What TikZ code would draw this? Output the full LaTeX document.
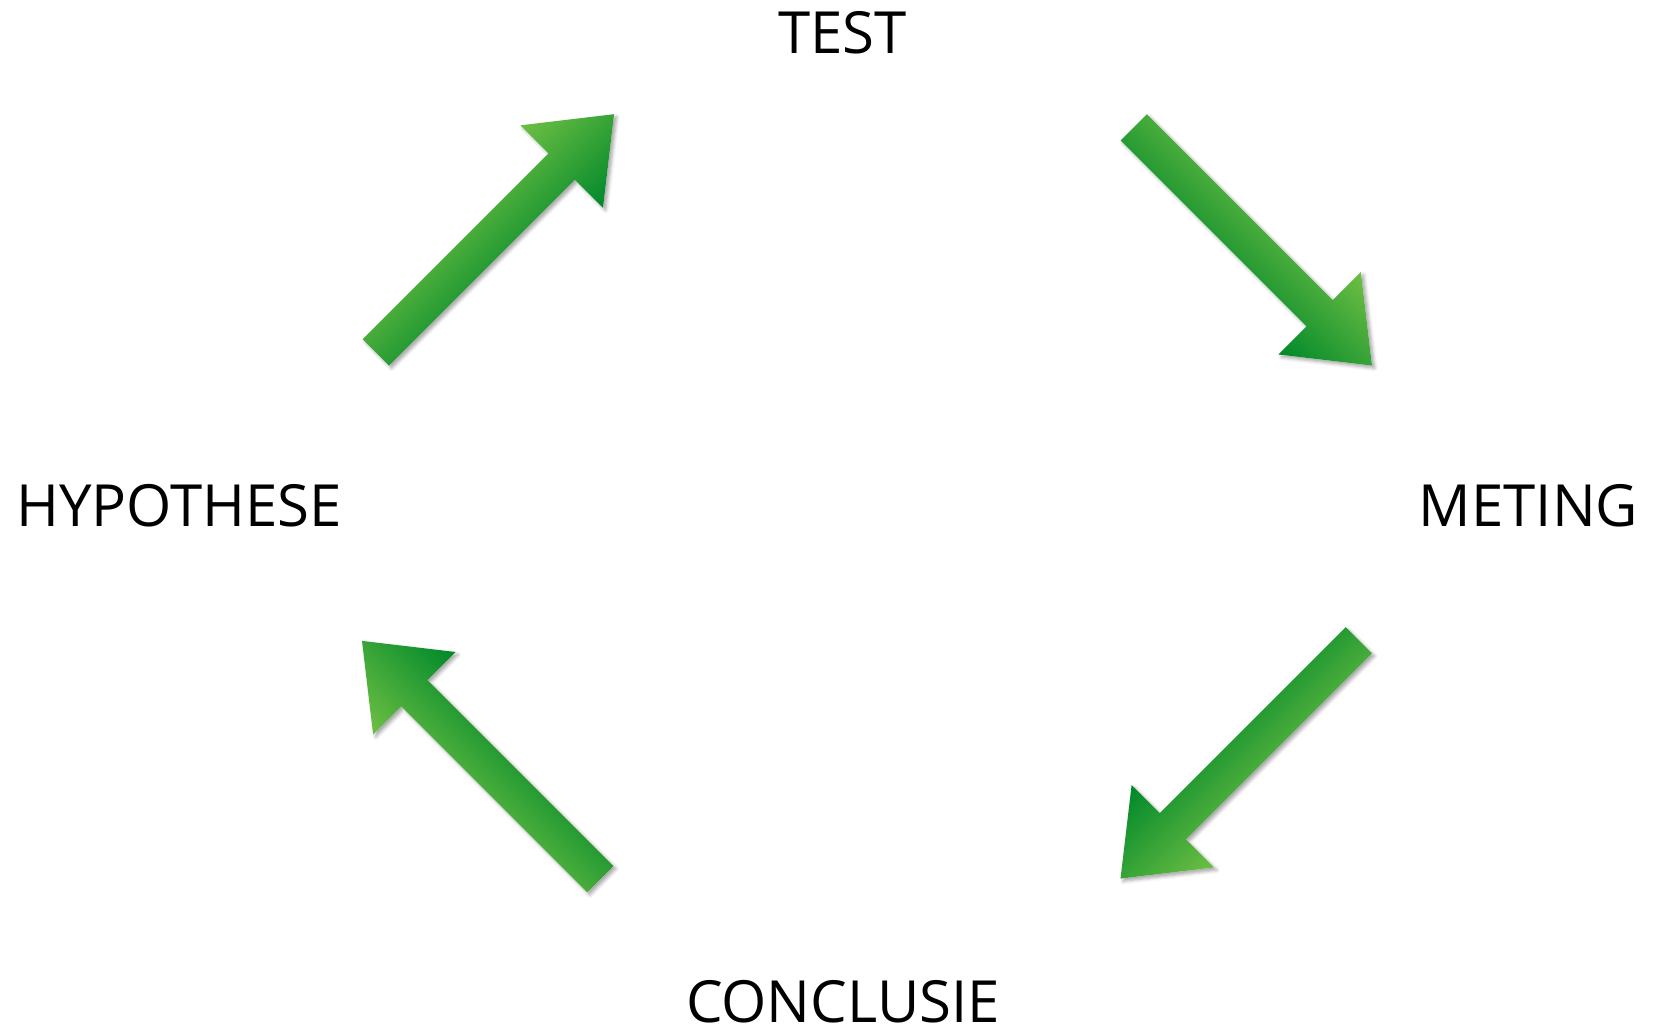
\documentclass[tikz,border=0pt]{standalone}
\usepackage{fontspec}
\setmainfont{Open Sans}
\usepackage{tikz}
\usetikzlibrary{shadows.blur}

\definecolor{lichtgroen}{RGB}{110,191,68}
\definecolor{donkergroen}{RGB}{0,136,42}

% vorm van een pijl: staart in de oorsprong, punt naar rechts
\newcommand{\pijlvorm}{(0,-18.6) -- (263,-18.6) -- (263,-58.3) -- (337,0) -- (263,58.3) -- (263,18.6) -- (0,18.6) -- cycle}

\begin{document}
\begin{tikzpicture}[x=0.75pt, y=0.75pt,
	etiket/.style={inner sep=0pt, text=black, font=\fontsize{43.6}{50}\selectfont},
	pijl/.style={draw=none, top color=lichtgroen, bottom color=donkergroen},
	schaduw/.style={fill=white, blur shadow={shadow xshift=2pt, shadow yshift=-2pt, shadow blur radius=2.5pt, shadow opacity=35}}]
	\useasboundingbox (0,0) rectangle (1654,1032);

	% de vier stappen
	\node [etiket] (test) at (842.5,999.5) {TEST};
	\node [etiket] (hypothese) at (179,526) {HYPOTHESE};
	\node [etiket] (meting) at (1528.5,526) {METING};
	\node [etiket] (conclusie) at (843,30) {CONCLUSIE};

	% staarten van de pijlen
	\coordinate (staart1) at (375.8,679.5);
	\coordinate (staart2) at (1133.7,904.7);
	\coordinate (staart3) at (1358.8,391.7);
	\coordinate (staart4) at (600.3,152.8);

	% hypothese naar test
	\fill [schaduw, shift={(staart1)}, rotate=45] \pijlvorm;
	\shade [pijl, transform canvas={shift={(staart1)}, rotate=45}] \pijlvorm;

	% test naar meting
	\fill [schaduw, shift={(staart2)}, rotate=-45] \pijlvorm;
	\shade [pijl, transform canvas={shift={(staart2)}, rotate=-45}] \pijlvorm;

	% meting naar conclusie
	\fill [schaduw, shift={(staart3)}, rotate=225] \pijlvorm;
	\shade [pijl, transform canvas={shift={(staart3)}, rotate=225}] \pijlvorm;

	% conclusie naar hypothese
	\fill [schaduw, shift={(staart4)}, rotate=135] \pijlvorm;
	\shade [pijl, transform canvas={shift={(staart4)}, rotate=135}] \pijlvorm;

\end{tikzpicture}
\end{document}
